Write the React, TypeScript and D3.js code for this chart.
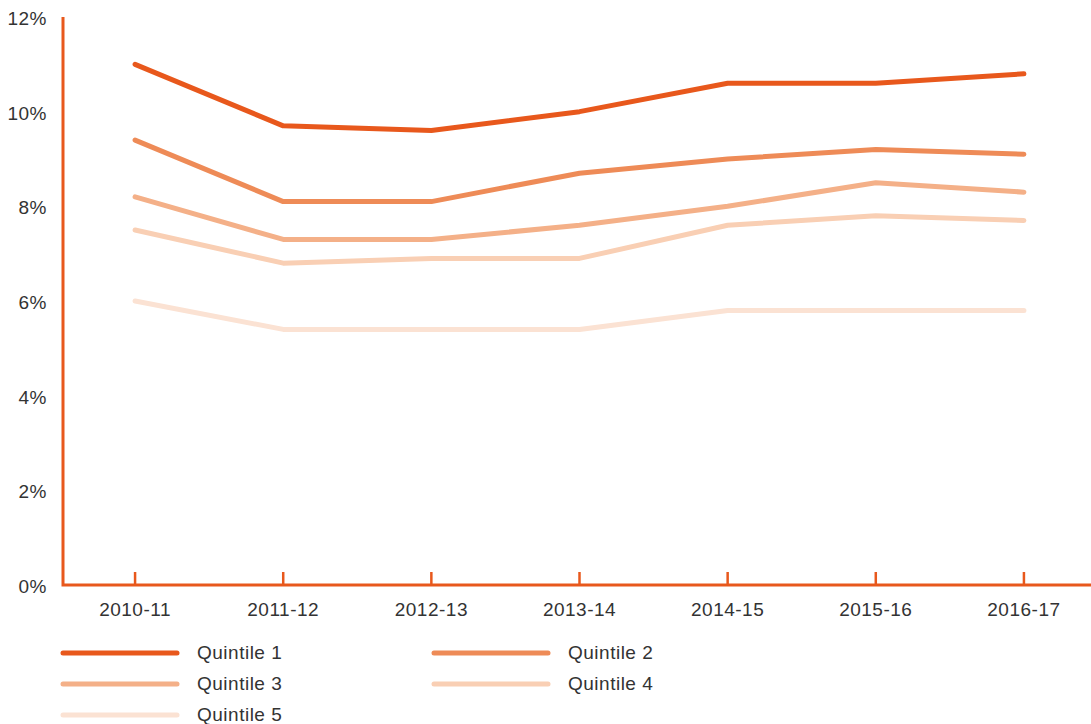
import React, { useRef, useEffect } from 'react';
import * as d3 from 'd3';

const years = ['2010-11', '2011-12', '2012-13', '2013-14', '2014-15', '2015-16', '2016-17'];
const quintile1 = [11.0, 9.7, 9.6, 10.0, 10.6, 10.6, 10.8];
const quintile2 = [9.4, 8.1, 8.1, 8.7, 9.0, 9.2, 9.1];
const quintile3 = [8.2, 7.3, 7.3, 7.6, 8.0, 8.5, 8.3];
const quintile4 = [7.5, 6.8, 6.9, 6.9, 7.6, 7.8, 7.7];
const quintile5 = [6.0, 5.4, 5.4, 5.4, 5.8, 5.8, 5.8];
const yTicks = [0, 2, 4, 6, 8, 10, 12];

const seriesNames = ['Quintile 1', 'Quintile 2', 'Quintile 3', 'Quintile 4', 'Quintile 5'];
const seriesColors = ['#e8581c', '#ee8b57', '#f4b088', '#f9cfb4', '#fbe2d3'];

const W = 1091;
const H = 724;
const FONT = '"Liberation Sans", Arial, sans-serif';
const AXIS = '#e8581c';

const App = () => {
  const ref = useRef<SVGSVGElement | null>(null);

  useEffect(() => {
    if (!ref.current) return;
    const svg = d3.select(ref.current);
    svg.selectAll('*').remove();

    const x = d3.scalePoint<string>().domain(years).range([61, 1098]).padding(0.5);
    const y = d3.scaleLinear().domain([0, 12]).range([585, 17]);

    const allSeries = [quintile1, quintile2, quintile3, quintile4, quintile5];

    const txt = (sel: any) => sel
      .attr('font-family', FONT)
      .attr('font-size', '19px')
      .attr('letter-spacing', '0.5px')
      .attr('fill', '#333')
      .attr('dominant-baseline', 'middle');

    // y axis labels
    svg.append('g')
      .selectAll('text')
      .data(yTicks)
      .enter()
      .append('text')
      .attr('x', 47)
      .attr('y', d => y(d) + 3)
      .attr('text-anchor', 'end')
      .call(txt)
      .text(d => `${d}%`);

    // x ticks + labels
    svg.append('g')
      .selectAll('line')
      .data(years)
      .enter()
      .append('line')
      .attr('x1', d => x(d)!)
      .attr('x2', d => x(d)!)
      .attr('y1', 572)
      .attr('y2', 585)
      .attr('stroke', AXIS)
      .attr('stroke-width', 2.5);

    svg.append('g')
      .selectAll('text')
      .data(years)
      .enter()
      .append('text')
      .attr('x', d => x(d)!)
      .attr('y', 611)
      .attr('text-anchor', 'middle')
      .call(txt)
      .text(d => d);

    // axis lines
    svg.append('path')
      .attr('d', `M63,${y(12)}V${y(0)}H${W}`)
      .attr('fill', 'none')
      .attr('stroke', AXIS)
      .attr('stroke-width', 3);

    const line = d3.line<number>()
      .x((_, i) => x(years[i])!)
      .y(d => y(d));

    // draw lighter first so darker sits on top
    for (let s = allSeries.length - 1; s >= 0; s--) {
      svg.append('path')
        .datum(allSeries[s])
        .attr('d', line)
        .attr('fill', 'none')
        .attr('stroke', seriesColors[s])
        .attr('stroke-width', 5)
        .attr('stroke-linecap', 'round')
        .attr('stroke-linejoin', 'round');
    }

    // legend
    const legend = svg.append('g');
    seriesNames.forEach((name, i) => {
      const col = i % 2;
      const row = Math.floor(i / 2);
      const lx = col === 0 ? 63 : 434;
      const ly = 653 + row * 31;
      legend.append('line')
        .attr('x1', lx)
        .attr('x2', lx + 114)
        .attr('y1', ly)
        .attr('y2', ly)
        .attr('stroke', seriesColors[i])
        .attr('stroke-width', 5)
        .attr('stroke-linecap', 'round');
      legend.append('text')
        .attr('x', lx + 134)
        .attr('y', ly + 1)
        .call(txt)
        .text(name);
    });
  }, []);

  return (
    <svg ref={ref} width={W} height={H} style={{ position: 'absolute', left: 0, top: 0, background: '#fff' }}></svg>
  );
};

export default App;
